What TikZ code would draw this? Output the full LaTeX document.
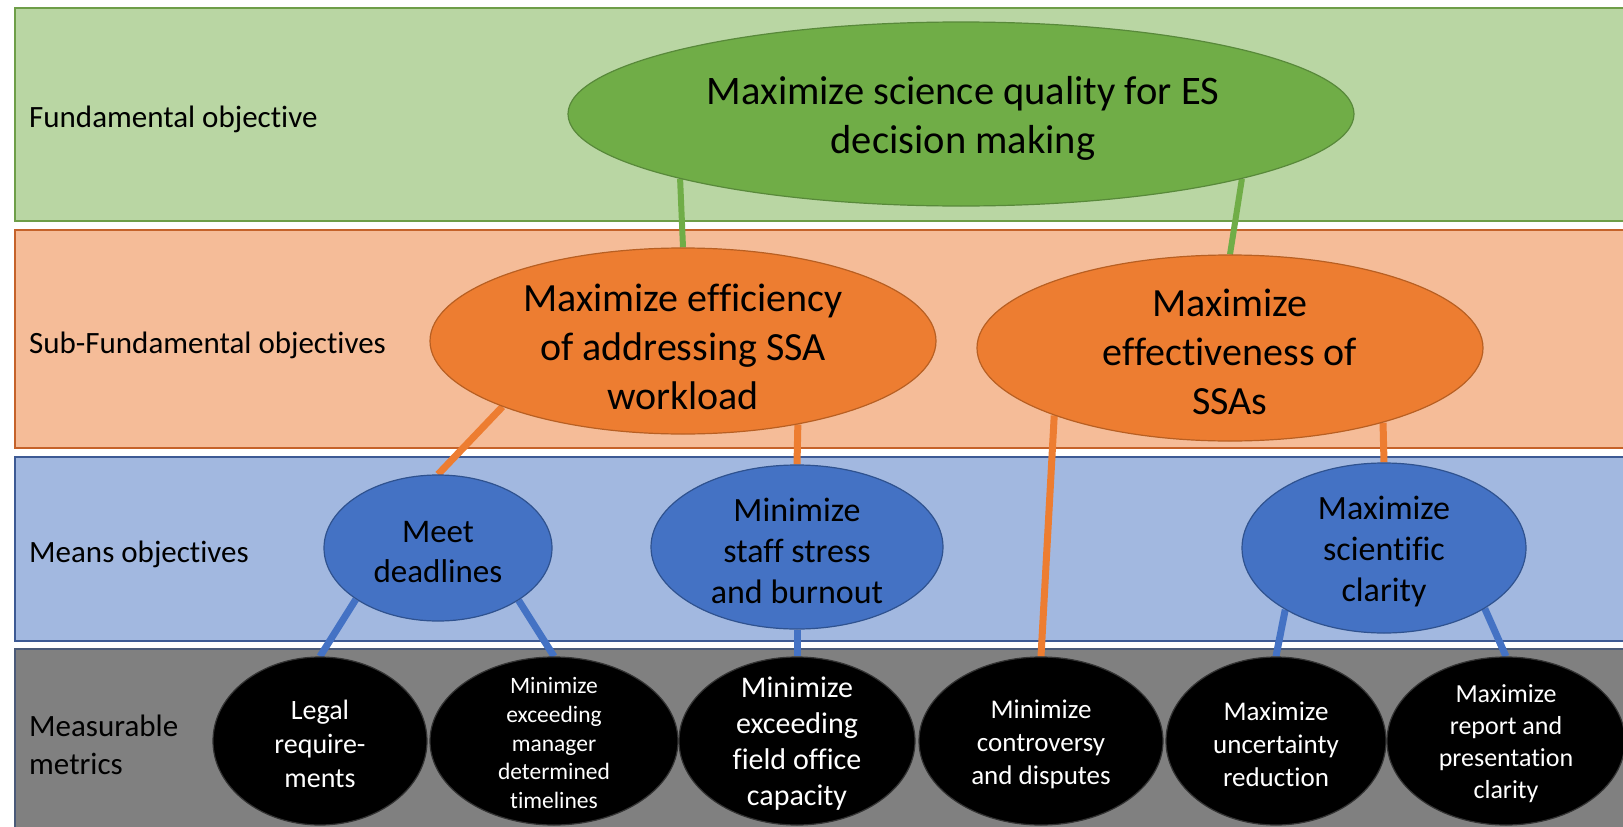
\documentclass[tikz,border=0pt]{standalone}
\usepackage{fontspec}
\setmainfont{Carlito}[Ligatures=NoCommon]
\usetikzlibrary{shapes.geometric}

\definecolor{bandgreen}{HTML}{B9D6A3}
\definecolor{bandgreenline}{HTML}{6E9E48}
\definecolor{fundfill}{HTML}{70AD47}
\definecolor{fundline}{HTML}{58893A}
\definecolor{bandorange}{HTML}{F5BC98}
\definecolor{bandorangeline}{HTML}{C5622A}
\definecolor{subfill}{HTML}{ED7D31}
\definecolor{subline}{HTML}{B85F22}
\definecolor{bandblue}{HTML}{A2B8E0}
\definecolor{bandblueline}{HTML}{3D5A94}
\definecolor{meansfill}{HTML}{4472C4}
\definecolor{meansline}{HTML}{2F528F}
\definecolor{bandgray}{HTML}{808080}
\definecolor{bandgrayline}{HTML}{4A5A78}

\pgfdeclarelayer{bands}
\pgfdeclarelayer{links}
\pgfsetlayers{bands,links,main}

\begin{document}
\begin{tikzpicture}[x=1pt,y=-1pt,
  band/.style={line width=1.5pt},
  bandlabel/.style={anchor=west, align=left, inner sep=0pt,
    font=\fontsize{31}{38}\selectfont},
  oval/.style={ellipse, inner sep=0pt, line width=1.2pt},
  fundoval/.style={oval, fill=fundfill, draw=fundline},
  suboval/.style={oval, fill=subfill, draw=subline},
  meansoval/.style={oval, fill=meansfill, draw=meansline},
  metricoval/.style={oval, fill=black, draw=black!80},
  ovaltext/.style={align=center, inner sep=0pt, text=black},
  metrictext/.style={align=center, inner sep=0pt, text=white},
  glink/.style={draw=fundfill, line width=6pt},
  olink/.style={draw=subfill, line width=7pt},
  blink/.style={draw=meansfill, line width=7pt}
]
\useasboundingbox (0,0) rectangle (1623,827);

% horizontal bands
\begin{pgfonlayer}{bands}
  \fill[white] (0,0) rectangle (1623,827);
  \draw[band, fill=bandgreen, draw=bandgreenline] (15,8) rectangle (1640,221);
  \draw[band, fill=bandorange, draw=bandorangeline] (15,230) rectangle (1640,448);
  \draw[band, fill=bandblue, draw=bandblueline] (15,457) rectangle (1640,641);
  \draw[band, fill=bandgray, draw=bandgrayline] (15,649) rectangle (1640,840);
\end{pgfonlayer}

% band labels
\node[bandlabel] (lfund) at (29,119) {Fundamental objective};
\node[bandlabel] (lsub) at (29,345) {Sub-Fundamental objectives};
\node[bandlabel] (lmeans) at (29,554) {Means objectives};
\node[bandlabel] (lmetric) at (29,745) {Measurable\\metrics};

% fundamental objective
\node[fundoval, minimum width=786pt, minimum height=184pt] (fund) at (961,114) {};
\node[ovaltext, font=\fontsize{40.5}{49}\selectfont] (fundt) at (963,118) {Maximize science quality for ES\\decision making};

% sub-fundamental objectives
\node[suboval, minimum width=506pt, minimum height=186pt] (eff) at (683,341) {};
\node[ovaltext, font=\fontsize{40}{49}\selectfont] (efft) at (683,347) {Maximize efficiency\\of addressing SSA\\workload};
\node[suboval, minimum width=506pt, minimum height=186pt] (effv) at (1230,348) {};
\node[ovaltext, font=\fontsize{40}{49}\selectfont] (effvt) at (1230,352) {Maximize\\effectiveness of\\SSAs};

% means objectives
\node[meansoval, minimum width=228pt, minimum height=146pt] (meet) at (438,548) {};
\node[ovaltext, font=\fontsize{33}{40}\selectfont] (meett) at (438,552) {Meet\\deadlines};
\node[meansoval, minimum width=292pt, minimum height=164pt] (staff) at (797,547) {};
\node[ovaltext, font=\fontsize{34}{41}\selectfont] (stafft) at (797,551) {Minimize\\staff stress\\and burnout};
\node[meansoval, minimum width=284pt, minimum height=170pt] (clar) at (1384,548) {};
\node[ovaltext, font=\fontsize{34}{41}\selectfont] (clart) at (1384,552) {Maximize\\scientific\\clarity};

% measurable metrics
\node[metricoval, minimum width=214pt, minimum height=168pt] (legal) at (320,741) {};
\node[metrictext, font=\fontsize{28}{34}\selectfont] (legalt) at (320,744) {Legal\\require-\\ments};
\node[metricoval, minimum width=248pt, minimum height=168pt] (mgr) at (554,741) {};
\node[metrictext, font=\fontsize{23.5}{28.7}\selectfont] (mgrt) at (554,743) {Minimize\\exceeding\\manager\\determined\\timelines};
\node[metricoval, minimum width=236pt, minimum height=168pt] (field) at (797,741) {};
\node[metrictext, font=\fontsize{30}{36}\selectfont] (fieldt) at (797,744) {Minimize\\exceeding\\field office\\capacity};
\node[metricoval, minimum width=244pt, minimum height=168pt] (contr) at (1041,741) {};
\node[metrictext, font=\fontsize{27}{33}\selectfont] (contrt) at (1041,744) {Minimize\\controversy\\and disputes};
\node[metricoval, minimum width=220pt, minimum height=168pt] (unc) at (1276,741) {};
\node[metrictext, font=\fontsize{27}{33}\selectfont] (unct) at (1276,744) {Maximize\\uncertainty\\reduction};
\node[metricoval, minimum width=238pt, minimum height=168pt] (rep) at (1506,741) {};
\node[metrictext, font=\fontsize{26}{32}\selectfont] (rept) at (1506,744) {Maximize\\report and\\presentation\\clarity};

% connectors, drawn beneath the ovals
\begin{pgfonlayer}{links}
  \draw[glink] (fund.193) -- (eff.north);
  \draw[glink] (fund.-13) -- (effv.north);
  \draw[olink] (eff.200) -- (meet.north);
  \draw[olink] (eff.-36) -- (staff.north);
  \draw[olink] (effv.201) -- (contr.north);
  \draw[olink] (effv.-26) -- (clar.north);
  \draw[blink] (meet.212) -- (legal.north);
  \draw[blink] (meet.-33) -- (mgr.north);
  \draw[blink] (staff.south) -- (field.north);
  \draw[blink] (clar.212) -- (unc.north);
  \draw[blink] (clar.-31) -- (rep.north);
\end{pgfonlayer}
\end{tikzpicture}
\end{document}
